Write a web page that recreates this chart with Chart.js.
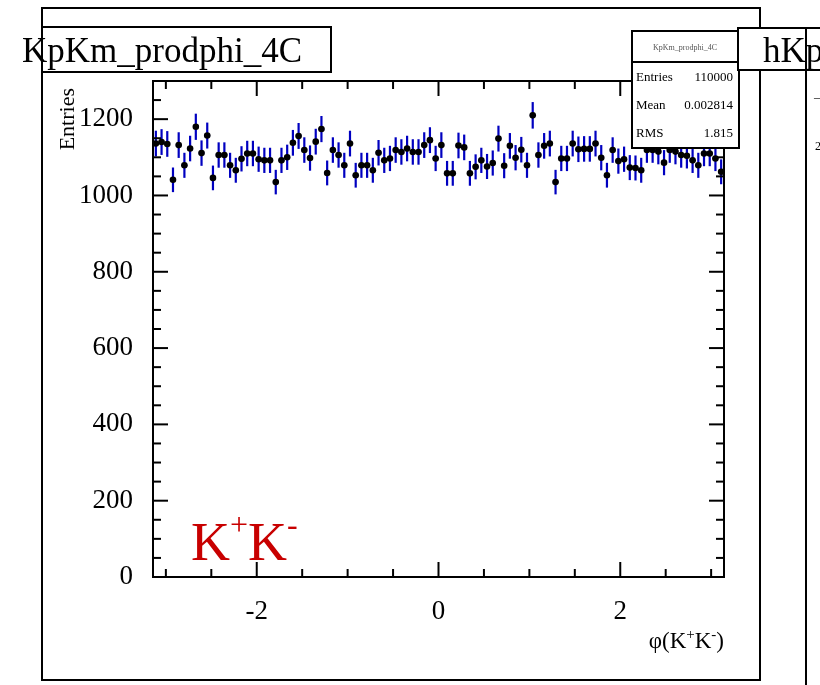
<!DOCTYPE html>
<html>
<head>
<meta charset="utf-8">
<script src="https://cdn.jsdelivr.net/npm/chart.js@4.4.0/dist/chart.umd.min.js"></script>
<style>
  html, body { margin: 0; padding: 0; background: #fff; }
  canvas { display: block; }
</style>
</head>
<body>
<canvas id="phi-chart" width="820" height="685"></canvas>
<script>
// KpKm_prodphi_4C : 100 bins between -pi and pi
const nBins = 100;
const xLow = -Math.PI;
const xHigh = Math.PI;
const counts = [
  1136, 1140, 1135, 1041, 1132, 1079, 1123, 1180, 1111, 1157,
  1046, 1106, 1106, 1079, 1066, 1096, 1110, 1110, 1095, 1092,
  1092, 1035, 1092, 1100, 1138, 1156, 1119, 1098, 1141, 1174,
  1059, 1119, 1106, 1079, 1136, 1053, 1079, 1079, 1066, 1112,
  1092, 1097, 1119, 1114, 1123, 1114, 1114, 1132, 1145, 1097,
  1132, 1058, 1058, 1131, 1126, 1058, 1075, 1092, 1076, 1085,
  1149, 1078, 1130, 1099, 1120, 1079, 1210, 1106, 1130, 1136,
  1035, 1097, 1097, 1136, 1121, 1122, 1122, 1136, 1099, 1053,
  1119, 1090, 1095, 1073, 1072, 1066, 1119, 1119, 1115, 1086,
  1119, 1115, 1106, 1104, 1092, 1079, 1110, 1110, 1097, 1062
];
const xTicks = [-2, 0, 2];
const yTicks = [0, 200, 400, 600, 800, 1000, 1200];
const yMax = 1300;
const statNames = ['Entries', 'Mean', 'RMS'];
const statValues = ['110000', '0.002814', '1.815'];

const binWidth = (xHigh - xLow) / nBins;
const points = counts.map((c, i) => ({ x: xLow + (i + 0.5) * binWidth, y: c }));

const serif = 'Liberation Serif';

function line(ctx, x0, y0, x1, y1) {
  ctx.beginPath();
  ctx.moveTo(x0, y0);
  ctx.lineTo(x1, y1);
  ctx.stroke();
}

// pieces of text with superscripts, drawn left to right
function drawPieces(ctx, pieces, x, y) {
  pieces.forEach(p => {
    ctx.font = p.size + 'px "' + serif + '"';
    ctx.fillText(p.t, x, y - (p.up || 0));
    x += ctx.measureText(p.t).width;
  });
}
function piecesWidth(ctx, pieces) {
  let w = 0;
  pieces.forEach(p => {
    ctx.font = p.size + 'px "' + serif + '"';
    w += ctx.measureText(p.t).width;
  });
  return w;
}

const rootStyle = {
  id: 'rootStyle',
  beforeDatasetsDraw(chart) {
    const ctx = chart.ctx, xs = chart.scales.x, ys = chart.scales.y;
    ctx.save();
    ctx.strokeStyle = '#0000c0';
    ctx.lineWidth = 2.2;
    points.forEach(p => {
      const err = Math.sqrt(p.y);
      const px = xs.getPixelForValue(p.x);
      const py = ys.getPixelForValue(p.y);
      line(ctx, px, ys.getPixelForValue(p.y - err), px, ys.getPixelForValue(p.y + err));
      line(ctx, xs.getPixelForValue(p.x - binWidth / 2), py, xs.getPixelForValue(p.x + binWidth / 2), py);
    });
    ctx.restore();
  },
  afterDraw(chart) {
    const ctx = chart.ctx, xs = chart.scales.x, ys = chart.scales.y;
    const a = chart.chartArea;
    ctx.save();
    ctx.strokeStyle = '#000';
    ctx.fillStyle = '#000';
    ctx.lineWidth = 2;

    // frame + ticks
    ctx.strokeRect(a.left, a.top, a.right - a.left, a.bottom - a.top);
    for (let v = 0; v <= yMax; v += 50) {
      const py = ys.getPixelForValue(v);
      const len = v % 200 === 0 ? 15 : 8;
      line(ctx, a.left, py, a.left + len, py);
      line(ctx, a.right, py, a.right - len, py);
    }
    for (let v = -3; v <= 3; v += 0.5) {
      const px = xs.getPixelForValue(v);
      const len = xTicks.includes(v) ? 15 : 8;
      line(ctx, px, a.bottom, px, a.bottom - len);
      line(ctx, px, a.top, px, a.top + len);
    }

    // outer pad frame
    ctx.strokeRect(42, 8, 718, 672);

    // y title
    ctx.save();
    ctx.translate(74, 88);
    ctx.rotate(-Math.PI / 2);
    ctx.textAlign = 'right';
    ctx.font = '22px "' + serif + '"';
    ctx.fillText('Entries', 0, 0);
    ctx.restore();

    // x title
    const xt = [
      { t: '\u03c6(K', size: 23 }, { t: '+', size: 15, up: 9 },
      { t: 'K', size: 23 }, { t: '-', size: 15, up: 9 }, { t: ')', size: 23 }
    ];
    drawPieces(ctx, xt, 724 - piecesWidth(ctx, xt), 648);

    // red label
    ctx.fillStyle = '#c80000';
    drawPieces(ctx, [
      { t: 'K', size: 54 }, { t: '+', size: 32, up: 25 },
      { t: 'K', size: 54 }, { t: '-', size: 32, up: 25 }
    ], 191, 560);
    ctx.fillStyle = '#000';

    // title box
    ctx.fillStyle = '#fff';
    ctx.fillRect(42, 27, 289, 45);
    ctx.strokeRect(42, 27, 289, 45);
    ctx.fillStyle = '#000';
    ctx.font = '35px "' + serif + '"';
    ctx.fillText('KpKm_prodphi_4C', 22, 62);

    // stats box
    ctx.fillStyle = '#fff';
    ctx.fillRect(632, 31, 107, 117);
    ctx.strokeRect(632, 31, 107, 117);
    line(ctx, 632, 62, 739, 62);
    ctx.fillStyle = '#555';
    ctx.font = '8px "' + serif + '"';
    ctx.textAlign = 'center';
    ctx.fillText('KpKm_prodphi_4C', 685, 50);
    ctx.fillStyle = '#000';
    ctx.font = '13px "' + serif + '"';
    statNames.forEach((n, i) => {
      const by = 81 + i * 28;
      ctx.textAlign = 'left';
      ctx.fillText(n, 636, by);
      ctx.textAlign = 'right';
      ctx.fillText(statValues[i], 733, by);
    });
    ctx.textAlign = 'left';

    // neighbouring pad
    ctx.fillStyle = '#fff';
    ctx.fillRect(738, 28, 90, 42);
    ctx.strokeRect(738, 28, 90, 42);
    ctx.fillStyle = '#000';
    ctx.font = '35px "' + serif + '"';
    ctx.fillText('hKp', 763, 62);
    line(ctx, 806, 28, 806, 685);
    ctx.font = '12px "' + serif + '"';
    ctx.fillText('\u2013', 814, 101);
    ctx.fillText('2', 815, 150);
    ctx.restore();
  }
};

new Chart(document.getElementById('phi-chart'), {
  type: 'scatter',
  data: {
    datasets: [{
      label: 'KpKm_prodphi_4C',
      data: points,
      pointRadius: 3.3,
      pointHoverRadius: 3.3,
      pointBackgroundColor: '#000',
      pointBorderWidth: 0
    }]
  },
  options: {
    responsive: false,
    animation: false,
    devicePixelRatio: 1,
    layout: { autoPadding: false, padding: { left: 43, top: 81, right: 96, bottom: 0 } },
    plugins: { legend: { display: false }, tooltip: { enabled: false } },
    scales: {
      x: {
        type: 'linear',
        min: xLow,
        max: xHigh,
        grid: { display: false, drawTicks: false },
        border: { display: false },
        afterFit(scale) { scale.height = 108; },
        afterBuildTicks(scale) { scale.ticks = xTicks.map(v => ({ value: v })); },
        ticks: {
          padding: 19,
          maxRotation: 0,
          color: '#000',
          font: { family: serif, size: 27 },
          callback: v => String(v)
        }
      },
      y: {
        min: 0,
        max: yMax,
        grid: { display: false, drawTicks: false },
        border: { display: false },
        afterFit(scale) { scale.width = 110; },
        afterBuildTicks(scale) { scale.ticks = yTicks.map(v => ({ value: v })); },
        ticks: {
          padding: 20,
          color: '#000',
          font: { family: serif, size: 27 },
          callback: v => String(v)
        }
      }
    }
  },
  plugins: [rootStyle]
});
</script>
</body>
</html>
